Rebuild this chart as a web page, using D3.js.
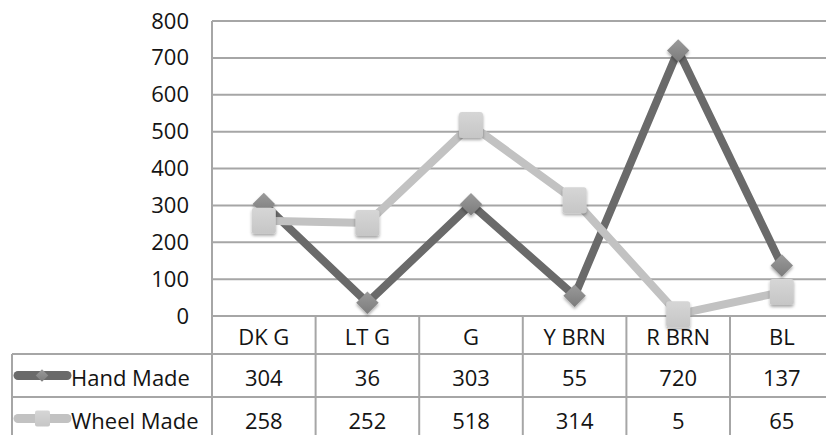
<!DOCTYPE html>
<html>
<head>
<meta charset="utf-8">
<script src="https://cdn.jsdelivr.net/npm/d3@7/dist/d3.min.js"></script>
<style>
  html, body { margin: 0; padding: 0; background: #fff; }
  svg { display: block; font-family: "Open Sans", "DejaVu Sans", sans-serif; }
</style>
</head>
<body>
<svg id="chart" width="826" height="435"></svg>
<script>
// Counts per colour category
const categories = ["DK G", "LT G", "G", "Y BRN", "R BRN", "BL"];
const handMade = [304, 36, 303, 55, 720, 137];
const wheelMade = [258, 252, 518, 314, 5, 65];
const yTicks = [0, 100, 200, 300, 400, 500, 600, 700, 800];

const series = [
  { name: "Hand Made", values: handMade, color: "#6a6a6a", marker: "diamond" },
  { name: "Wheel Made", values: wheelMade, color: "#c2c2c2", marker: "square" }
];

const svg = d3.select("#chart");
const gridColor = "#a6a6a6";
const textColor = "#141414";

const plotLeft = 212, plotTop = 21, plotBottom = 316;
const colW = 103.6;
const x = d3.scaleBand().domain(categories).range([plotLeft, plotLeft + colW * categories.length]);
const y = d3.scaleLinear().domain([0, 800]).range([plotBottom, plotTop]);
const cx = c => x(c) + x.bandwidth() / 2;

// soft shadow and shading for markers
const defs = svg.append("defs");
const f = defs.append("filter").attr("id", "shadow").attr("x", "-50%").attr("y", "-50%").attr("width", "200%").attr("height", "200%");
f.append("feDropShadow").attr("dx", 0).attr("dy", 2).attr("stdDeviation", 1.6).attr("flood-color", "#000").attr("flood-opacity", 0.35);
const lg = defs.append("linearGradient").attr("id", "gradDia").attr("x1", 0).attr("y1", 0).attr("x2", 0).attr("y2", 1);
lg.append("stop").attr("offset", "0%").attr("stop-color", "#9a9a9a");
lg.append("stop").attr("offset", "100%").attr("stop-color", "#7c7c7c");
const lg2 = defs.append("linearGradient").attr("id", "gradSq").attr("x1", 0).attr("y1", 0).attr("x2", 0).attr("y2", 1);
lg2.append("stop").attr("offset", "0%").attr("stop-color", "#d6d6d6");
lg2.append("stop").attr("offset", "100%").attr("stop-color", "#c6c6c6");

// horizontal gridlines
svg.append("g").selectAll("line").data(yTicks).join("line")
  .attr("x1", plotLeft).attr("x2", 826)
  .attr("y1", d => y(d)).attr("y2", d => y(d))
  .attr("stroke", gridColor).attr("stroke-width", 2);

// y axis labels
const yAxis = d3.axisLeft(y).tickValues(yTicks).tickSize(0).tickPadding(23);
const ya = svg.append("g").attr("transform", `translate(${plotLeft},0)`).call(yAxis);
ya.select(".domain").remove();
ya.selectAll("text").attr("font-size", 22).attr("fill", textColor).attr("font-family", "Open Sans, sans-serif");

// data table grid
const tableLeft = 12;
const rowY = [plotBottom, 354, 397, 440];
const tbl = svg.append("g").attr("stroke", gridColor).attr("stroke-width", 2);
tbl.append("line").attr("x1", plotLeft).attr("x2", plotLeft).attr("y1", plotTop).attr("y2", 440);
tbl.selectAll("line.col").data(categories.slice(1)).join("line").attr("class", "col")
  .attr("x1", d => x(d)).attr("x2", d => x(d)).attr("y1", plotBottom).attr("y2", 440);
tbl.selectAll("line.row").data(rowY.slice(1, 3)).join("line").attr("class", "row")
  .attr("x1", tableLeft).attr("x2", 826).attr("y1", d => d).attr("y2", d => d);
tbl.append("line").attr("x1", tableLeft).attr("x2", tableLeft).attr("y1", rowY[1]).attr("y2", 440);

// header labels
svg.append("g").selectAll("text").data(categories).join("text")
  .attr("x", d => cx(d)).attr("y", (rowY[0] + rowY[1]) / 2 + 1)
  .attr("text-anchor", "middle").attr("dominant-baseline", "central")
  .attr("font-size", 22).attr("fill", textColor).text(d => d);

// series rows
series.forEach((s, i) => {
  const top = rowY[i + 1], bot = rowY[i + 2];
  const my = (top + bot) / 2 + 1;
  const g = svg.append("g");
  g.selectAll("text.v").data(s.values).join("text").attr("class", "v")
    .attr("x", (d, j) => cx(categories[j])).attr("y", my)
    .attr("text-anchor", "middle").attr("dominant-baseline", "central")
    .attr("font-size", 22).attr("fill", textColor).text(d => d);
  // legend key
  g.append("line").attr("x1", 18).attr("x2", 67).attr("y1", my - 1).attr("y2", my - 1)
    .attr("stroke", s.color).attr("stroke-width", 9).attr("stroke-linecap", "round");
  if (s.marker === "diamond") {
    g.append("path").attr("d", d3.symbol(d3.symbolDiamond2, 100)())
      .attr("transform", `translate(42,${my - 1})`).attr("fill", "url(#gradDia)");
  } else {
    g.append("rect").attr("x", 35).attr("y", my - 9).attr("width", 15).attr("height", 16).attr("rx", 2)
      .attr("fill", "url(#gradSq)");
  }
  g.append("text").attr("x", 71).attr("y", my).attr("dominant-baseline", "central")
    .attr("font-size", 22).attr("fill", textColor).text(s.name);
});

// lines and markers
const line = d3.line().x((d, j) => cx(categories[j])).y(d => y(d));
series.forEach(s => {
  svg.append("path").datum(s.values).attr("d", line)
    .attr("fill", "none").attr("stroke", s.color).attr("stroke-width", 8)
    .attr("stroke-linejoin", "miter");
});
series.forEach(s => {
  const g = svg.append("g").attr("filter", "url(#shadow)");
  if (s.marker === "diamond") {
    g.selectAll("path").data(s.values).join("path")
      .attr("d", d3.symbol(d3.symbolDiamond2, 320)())
      .attr("transform", (d, j) => `translate(${cx(categories[j])},${y(d)})`)
      .attr("fill", "url(#gradDia)");
  } else {
    g.selectAll("rect").data(s.values).join("rect")
      .attr("x", (d, j) => cx(categories[j]) - 12).attr("y", d => y(d) - 13)
      .attr("width", 24).attr("height", 26).attr("rx", 3)
      .attr("fill", "url(#gradSq)");
  }
});
</script>
</body>
</html>
